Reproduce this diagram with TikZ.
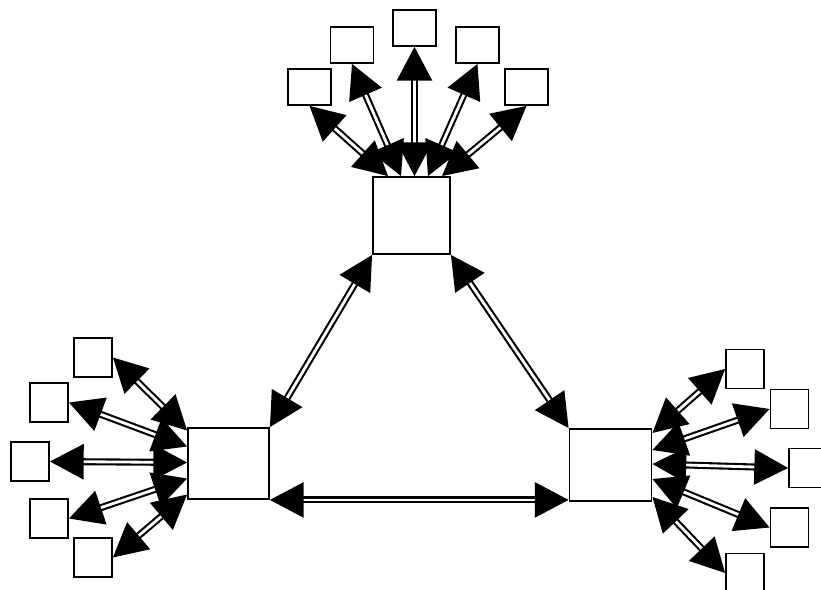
\documentclass[tikz,border=0pt]{standalone}
\usetikzlibrary{arrows.meta,calc}
\begin{document}
\begin{tikzpicture}
	[x=0.025cm,y=-0.025cm,
	hub/.style={draw=black,line width=1.3pt,fill=white,inner sep=0pt},
	leaf/.style={draw=black,line width=1.3pt,fill=white,inner sep=0pt,
		minimum width=1.075cm,minimum height=0.9cm},
	leaf2/.style={draw=black,line width=1.3pt,fill=white,inner sep=0pt,
		minimum width=0.95cm,minimum height=0.975cm},
	link/.style={draw=black,line width=1.5pt,double=white,double distance=2pt,
		{Triangle[length=24pt,width=25pt]}-{Triangle[length=24pt,width=25pt]}}]
	\useasboundingbox (0,0) rectangle (821,590);
	%nodos centrales
	\node (top) at (411.5,215.5) [hub,minimum width=1.925cm,minimum height=1.925cm] {};
	\node (left) at (228.5,463.5) [hub,minimum width=2.025cm,minimum height=1.775cm] {};
	\node (right) at (610.5,465) [hub,minimum width=2.05cm,minimum height=1.8cm] {};
	%hojas de arriba
	\node (t1) at (309.5,87) [leaf] {};
	\node (t2) at (352,45) [leaf] {};
	\node (t3) at (414.5,28) [leaf] {};
	\node (t4) at (477.5,45) [leaf] {};
	\node (t5) at (526.5,87) [leaf] {};
	%hojas de la izquierda
	\node (l1) at (93,357.5) [leaf2] {};
	\node (l2) at (49,402.5) [leaf2] {};
	\node (l3) at (30,461.5) [leaf2] {};
	\node (l4) at (49,518.5) [leaf2] {};
	\node (l5) at (93,557.5) [leaf2] {};
	%hojas de la derecha
	\node (r1) at (745,369) [leaf2] {};
	\node (r2) at (789.5,409) [leaf2] {};
	\node (r3) at (808,468) [leaf2] {};
	\node (r4) at (789.5,527.5) [leaf2] {};
	\node (r5) at (745,573) [leaf2] {};
	%triangulo
	\draw[link] (top.south west) -- (left.north east);
	\draw[link] (top.south east) -- (right.north west);
	\draw[link] (left.south east) -- (left.south east -| right.west);
	%flechas arriba
	\draw[link] (t1.south) -- ($(top.north)+(-23.5,0)$);
	\draw[link] (t2.south) -- ($(top.north)+(-10.5,0)$);
	\draw[link] (t3.south) -- ($(top.north)+(3,0)$);
	\draw[link] (t4.south) -- ($(top.north)+(16.5,0)$);
	\draw[link] (t5.south) -- ($(top.north)+(30.5,0)$);
	%flechas izquierda
	\draw[link] (l1.east) -- ($(left.west)+(0,-33)$);
	\draw[link] (l2.east) -- ($(left.west)+(0,-17)$);
	\draw[link] (l3.east) -- ($(left.west)+(0,-1)$);
	\draw[link] (l4.east) -- ($(left.west)+(0,15)$);
	\draw[link] (l5.east) -- ($(left.west)+(0,31)$);
	%flechas derecha
	\draw[link] (r1.west) -- ($(right.east)+(0,-32)$);
	\draw[link] (r2.west) -- ($(right.east)+(0,-15)$);
	\draw[link] (r3.west) -- ($(right.east)+(0,-1)$);
	\draw[link] (r4.west) -- ($(right.east)+(0,14)$);
	\draw[link] (r5.west) -- ($(right.east)+(0,32)$);
\end{tikzpicture}
\end{document}
